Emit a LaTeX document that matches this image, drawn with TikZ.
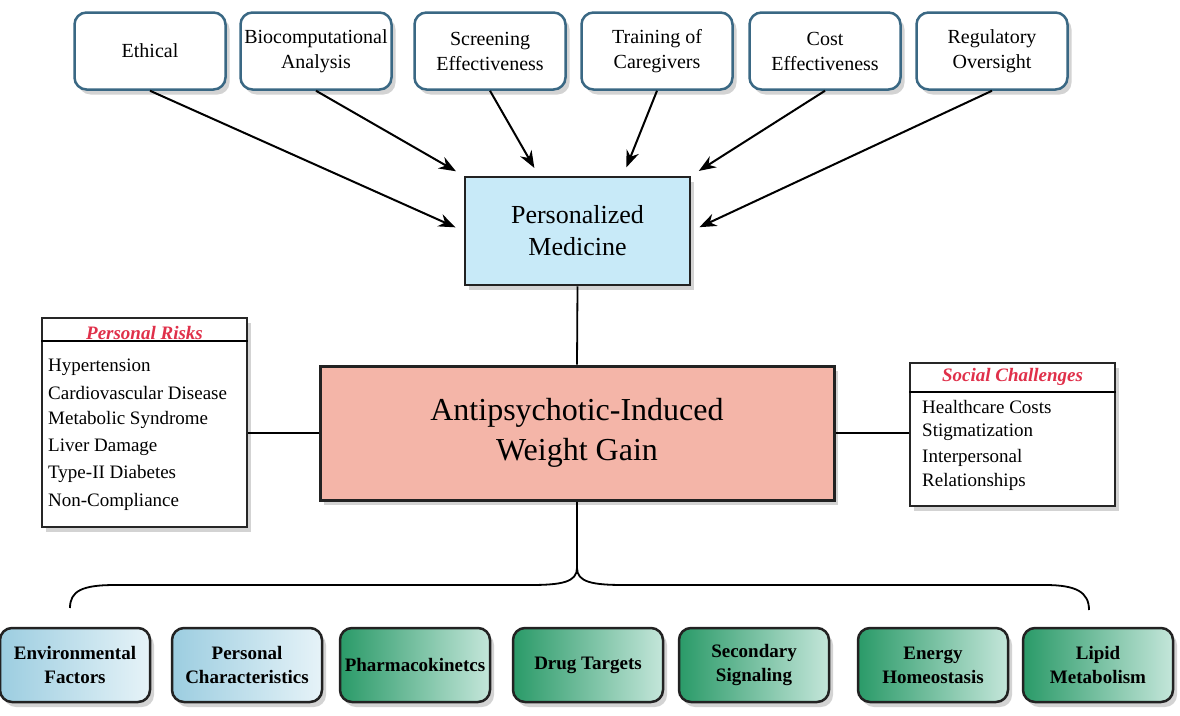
\documentclass[tikz,border=0pt]{standalone}
\usepackage{fontspec}
\setmainfont{Liberation Serif}
\usetikzlibrary{shadows,arrows.meta,calc}
\definecolor{topborder}{HTML}{3A6884}
\definecolor{pmfill}{HTML}{C8EAF8}
\definecolor{aifill}{HTML}{F4B5A8}
\definecolor{hdrred}{HTML}{E0304A}
\definecolor{bord}{HTML}{222222}
\definecolor{gdark}{HTML}{2A9A68}
\definecolor{glight}{HTML}{C4E6DA}
\definecolor{bdark}{HTML}{9CCDE0}
\definecolor{blight}{HTML}{E6F3F8}
\definecolor{shadc}{HTML}{A8A8A8}
\tikzset{
  shad/.style={drop shadow={shadow xshift=4pt,shadow yshift=-5pt,fill=shadc}},
  topbox/.style={draw=topborder,line width=2.5pt,rounded corners=12pt,fill=white,shad,
    minimum width=151pt,minimum height=77pt,align=center,inner sep=1pt,
    font={\fontsize{20}{25}\selectfont}},
  pmbox/.style={draw=bord,line width=2.5pt,fill=pmfill,shad,minimum width=225pt,minimum height=108pt,
    align=center,font={\fontsize{26}{32}\selectfont}},
  aibox/.style={draw=bord,line width=3pt,fill=aifill,shad,minimum width=514pt,minimum height=134pt,
    align=center,font={\fontsize{32}{40}\selectfont}},
  listbox/.style={draw=black!85,line width=2pt,fill=white,shad},
  hdr/.style={text=hdrred,font={\fontsize{19}{22}\selectfont\bfseries\itshape},inner sep=0pt},
  item/.style={anchor=west,font={\fontsize{19}{22}\selectfont},inner sep=0pt},
  botbox/.style={draw=bord,line width=2.5pt,rounded corners=12pt,shad,
    minimum width=150pt,minimum height=74pt,align=center,inner sep=1pt,
    font={\fontsize{19}{24}\selectfont\bfseries}},
  green/.style={botbox,left color=gdark,right color=glight},
  blue/.style={botbox,left color=bdark,right color=blight},
  arr/.style={line width=2pt,-{Stealth[length=17pt,width=13pt]},shorten >=9pt},
  conn/.style={line width=1.8pt},
}
\begin{document}
\begin{tikzpicture}[x=1pt,y=-1pt]
\useasboundingbox (0,0) rectangle (1180,715);
\fill[white] (0,0) rectangle (1180,715);
% top boxes
\node[topbox] (eth) at (150,51) {Ethical};
\node[topbox] (bio) at (316,51) {Biocomputational\\Analysis};
\node[topbox] (scr) at (490,51) {Screening\\Effectiveness};
\node[topbox] (trn) at (657,51) {Training of\\Caregivers};
\node[topbox] (cst) at (825,51) {Cost\\Effectiveness};
\node[topbox] (reg) at (992,51) {Regulatory\\Oversight};
% personalized medicine
\node[pmbox] (pm) at (577.5,231) {Personalized\\Medicine};
% central
\node[aibox] (ai) at (577,433) {Antipsychotic-Induced\\Weight Gain};
% arrows
\draw[arr] (eth.south) -- (pm.west);
\draw[arr] (bio.south) -- (pm.north west);
\draw[arr] (scr.south) -- ($(pm.north west)!0.33!(pm.north east)$);
\draw[arr] (trn.south) -- ($(pm.north west)!0.7!(pm.north east)$);
\draw[arr] (cst.south) -- (pm.north east);
\draw[arr] (reg.south) -- (pm.east);
\draw[conn] (pm.south) -- (ai.north);
% personal risks
\node[listbox,minimum width=205pt,minimum height=209pt] (pr) at (144.5,422.5) {};
\draw[line width=1.2pt] ($(pr.north west)+(0,24)$) coordinate (prl) -- ($(pr.north east)+(0,24)$) coordinate (prr);
\node[hdr] (prh) at (144.5,333) {Personal Risks};
\node[item] (pr1) at (48,367) {Hypertension};
\node[item] (pr2) at (48,393) {Cardiovascular Disease};
\node[item] (pr3) at (48,420) {Metabolic Syndrome};
\node[item] (pr4) at (48,447) {Liver Damage};
\node[item] (pr5) at (48,474) {Type-II Diabetes};
\node[item] (pr6) at (48,502) {Non-Compliance};
% social challenges
\node[listbox,minimum width=205pt,minimum height=143pt] (sc) at (1012.5,434.5) {};
\draw[line width=1.2pt] ($(sc.north west)+(0,30)$) coordinate (scl) -- ($(sc.north east)+(0,30)$) coordinate (scr2);
\node[hdr] (sch) at (1012.5,377) {Social Challenges};
\node[item] (sc1) at (922,407) {Healthcare Costs};
\node[item] (sc2) at (922,432) {Stigmatization};
\node[item] (sc3) at (922,458) {Interpersonal};
\node[item] (sc4) at (922,482) {Relationships};
\draw[conn] (pr.east |- ai.west) -- (ai.west);
\draw[conn] (ai.east) -- (sc.west |- ai.east);
% brace
\coordinate (bt) at (577,568);
\draw[conn] (ai.south) -- (bt);
\draw[line width=1.8pt] (70,608) .. controls (70,591) and (82,585) .. (115,585) -- (530,585)
  .. controls (562,585) and (577,582) .. (bt)
  .. controls (577,582) and (592,585) .. (624,585) -- (1045,585)
  .. controls (1076,585) and (1089,592) .. (1089,610);
% bottom boxes
\node[blue] (env) at (75,665) {Environmental\\Factors};
\node[blue] (per) at (247,665) {Personal\\Characteristics};
\node[green] (pha) at (415,665) {Pharmacokinetcs};
\node[green] (drg) at (588,665) {Drug Targets};
\node[green] (sec) at (754,665) {Secondary\\Signaling};
\node[green] (ene) at (933,665) {Energy\\Homeostasis};
\node[green] (lip) at (1098,665) {Lipid\\Metabolism};
\end{tikzpicture}
\end{document}
